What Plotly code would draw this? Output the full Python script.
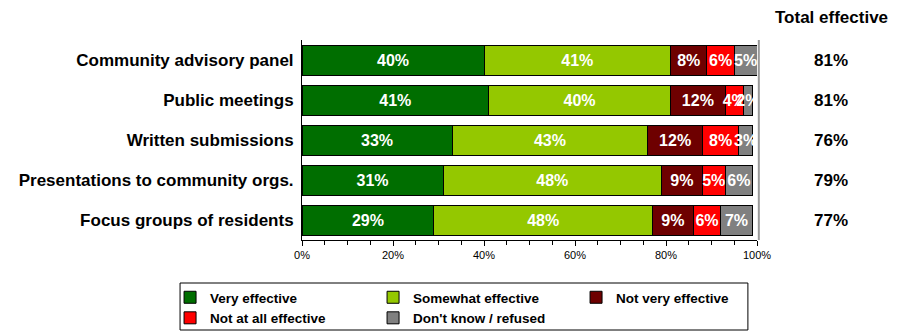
import plotly.graph_objects as go

categories = ["Community advisory panel", "Public meetings", "Written submissions",
              "Presentations to community orgs.", "Focus groups of residents"]
very = [40, 41, 33, 31, 29]
somewhat = [41, 40, 43, 48, 48]
not_very = [8, 12, 12, 9, 9]
not_at_all = [6, 4, 8, 5, 6]
dont_know = [5, 2, 3, 6, 7]
total_effective = [81, 81, 76, 79, 77]

series = [
    ("Very effective", very, "#006e00"),
    ("Somewhat effective", somewhat, "#94c800"),
    ("Not very effective", not_very, "#6e0000"),
    ("Not at all effective", not_at_all, "#ff0000"),
    ("Don't know / refused", dont_know, "#808080"),
]

FONT = "Liberation Sans, Arial, sans-serif"
fig = go.Figure()
for name, vals, col in series:
    fig.add_trace(go.Bar(
        y=categories, x=[v / 100 for v in vals], name=name, orientation="h",
        marker=dict(color=col, line=dict(color="#000000", width=1)),
        text=[f"{v}%" for v in vals], textposition="inside", textangle=0,
        insidetextanchor="middle",
        textfont=dict(color="white", size=16, family=FONT, weight="bold"),
        width=0.75,
    ))

for cat, t in zip(categories, total_effective):
    fig.add_annotation(x=1.163, y=cat, xref="paper", yref="y", text=f"<b>{t}%</b>",
                       xanchor="center", showarrow=False,
                       font=dict(size=17, color="black", family=FONT))
fig.add_annotation(x=1.163, y=1.11, xref="paper", yref="paper", text="<b>Total effective</b>",
                   xanchor="center", yanchor="middle", showarrow=False,
                   font=dict(size=17, color="black", family=FONT))

fig.add_shape(type="line", x0=1.004, x1=1.004, y0=0, y1=1, xref="paper", yref="paper",
              line=dict(color="#999999", width=2), layer="below")
# legend frame
fig.add_shape(type="rect", x0=-0.268, x1=0.980, y0=-0.45, y1=-0.215,
              xref="paper", yref="paper", line=dict(color="black", width=1))

fig.update_layout(
    width=898, height=333,
    margin=dict(l=302, r=141, t=40, b=93, autoexpand=False),
    barmode="stack",
    plot_bgcolor="white", paper_bgcolor="white",
    uniformtext=dict(minsize=16, mode="show"),
    font=dict(family=FONT, color="black"),
    showlegend=True,
    legend=dict(
        orientation="h", x=-0.29, y=-0.21, xanchor="left", yanchor="top",
        traceorder="normal", bgcolor="rgba(0,0,0,0)",
        borderwidth=0,
        font=dict(size=13.5, family=FONT, weight="bold"),
        entrywidth=158, entrywidthmode="pixels",
        itemwidth=30,
    ),
    xaxis=dict(
        range=[0, 1], tickformat=".0%", dtick=0.2, showgrid=False,
        showline=True, linecolor="black", linewidth=1,
        ticks="outside", ticklen=5, tickcolor="black",
        minor=dict(dtick=0.05, ticks="outside", ticklen=4, tickcolor="black"),
        tickfont=dict(size=11, family=FONT), zeroline=False,
    ),
    yaxis=dict(
        autorange="reversed", showgrid=False,
        showline=True, linecolor="black", linewidth=1,
        tickfont=dict(size=17, family=FONT, weight="bold"),
        ticks="", ticklabelstandoff=4,
    ),
)

fig.write_html("out.html")
